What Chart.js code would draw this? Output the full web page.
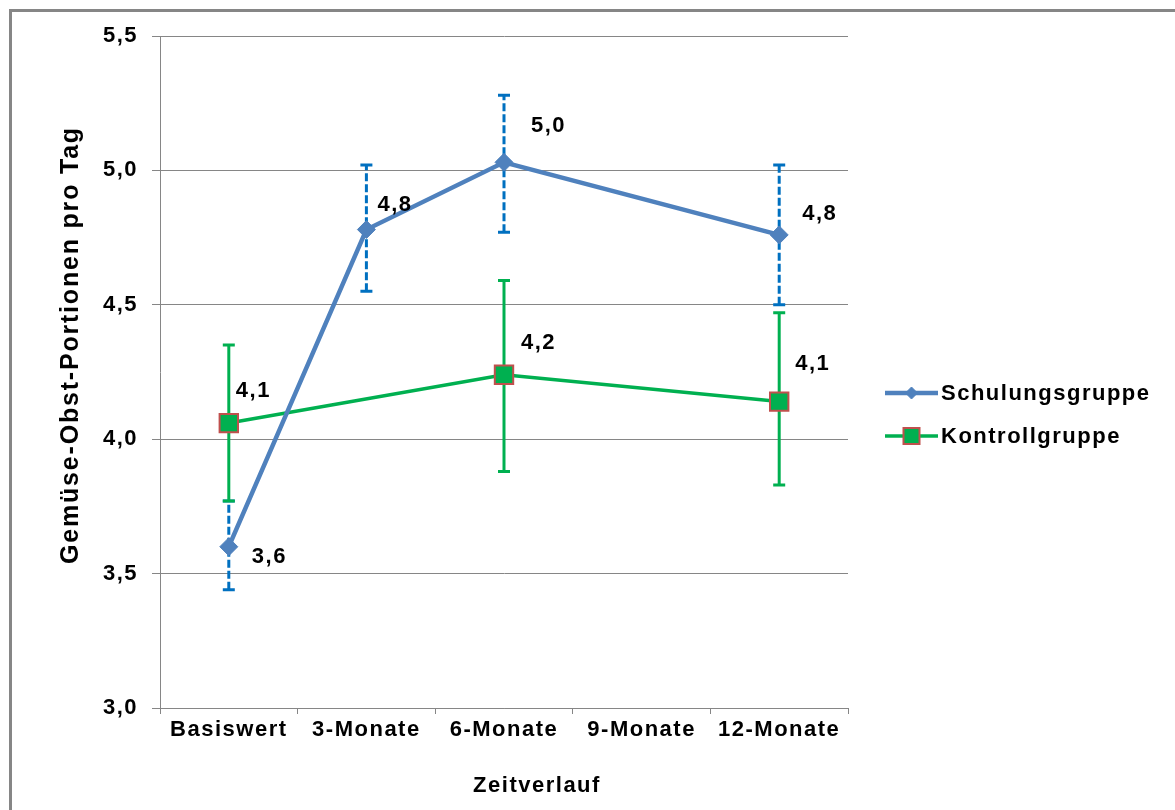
<!DOCTYPE html>
<html>
<head>
<meta charset="utf-8">
<script src="https://cdn.jsdelivr.net/npm/chart.js@4.4.1/dist/chart.umd.min.js"></script>
<style>
  html, body { margin: 0; padding: 0; background: #ffffff; }
  #wrap { width: 1175px; height: 810px; }
</style>
</head>
<body>
<div id="wrap"><canvas id="chart" width="1175" height="810"></canvas></div>
<script>
// Zeitpunkte der Erhebung
const categories = ['Basiswert', '3-Monate', '6-Monate', '9-Monate', '12-Monate'];

// Schulungsgruppe: Mittelwerte und Fehlerbalken (untere / obere Grenze)
const schulung     = [3.60, 4.78, 5.03, null, 4.76];
const schulungLow  = [3.44, 4.55, 4.77, null, 4.50];
const schulungHigh = [3.77, 5.02, 5.28, null, 5.02];

// Kontrollgruppe: Mittelwerte und Fehlerbalken
const kontroll     = [4.06, null, 4.24, null, 4.14];
const kontrollLow  = [3.77, null, 3.88, null, 3.83];
const kontrollHigh = [4.35, null, 4.59, null, 4.47];

// Achsenbereich der y-Achse
const yMin = 3.0, yMax = 5.5, yStep = 0.5;

const FONT = "'Liberation Sans', Arial, sans-serif";
const GREY = '#868686';
const SPACING = '1.5px';
const fmt = v => v.toFixed(1).replace('.', ',');

// wider glyph spacing for every canvas text
const spacing = {
  id: 'spacing',
  beforeUpdate(c) { c.ctx.letterSpacing = SPACING; },
  beforeLayout(c) { c.ctx.letterSpacing = SPACING; },
  beforeDraw(c) { c.ctx.letterSpacing = SPACING; }
};

// outer frame of the chart object
const frame = {
  id: 'frame',
  beforeDraw(c) {
    const ctx = c.ctx;
    ctx.save();
    ctx.strokeStyle = GREY;
    ctx.lineWidth = 3;
    ctx.strokeRect(10.5, 10.5, 1300, 1000);
    ctx.restore();
  }
};

// vertical error bars with caps
const errorBars = {
  id: 'errorBars',
  beforeDatasetsDraw(c) {
    const ctx = c.ctx, y = c.scales.y;
    c.data.datasets.forEach((ds, i) => {
      const meta = c.getDatasetMeta(i);
      const eb = ds.errorBar;
      ctx.save();
      ctx.strokeStyle = eb.color;
      ctx.lineWidth = eb.width;
      ctx.lineCap = 'butt';
      meta.data.forEach((pt, k) => {
        if (eb.low[k] == null || eb.high[k] == null) return;
        const x = pt.x;
        const yl = y.getPixelForValue(eb.low[k]);
        const yh = y.getPixelForValue(eb.high[k]);
        ctx.setLineDash(eb.dash);
        ctx.beginPath();
        ctx.moveTo(x, yl);
        ctx.lineTo(x, yh);
        ctx.stroke();
        ctx.setLineDash([]);
        ctx.beginPath();
        ctx.moveTo(x - eb.cap, yl); ctx.lineTo(x + eb.cap, yl);
        ctx.moveTo(x - eb.cap, yh); ctx.lineTo(x + eb.cap, yh);
        ctx.stroke();
      });
      ctx.restore();
    });
  }
};

// value labels next to the markers
const valueLabels = {
  id: 'valueLabels',
  afterDatasetsDraw(c) {
    const ctx = c.ctx;
    ctx.save();
    ctx.fillStyle = '#000';
    ctx.font = 'bold 22px ' + FONT;
    ctx.letterSpacing = SPACING;
    ctx.textAlign = 'left';
    ctx.textBaseline = 'middle';
    c.data.datasets.forEach((ds, i) => {
      const meta = c.getDatasetMeta(i);
      meta.data.forEach((pt, k) => {
        const v = ds.data[k];
        if (v == null) return;
        const n = ds.labelNudge[k];
        ctx.fillText(fmt(v), pt.x + n[0], pt.y + n[1]);
      });
    });
    ctx.restore();
  }
};

// legend with line + marker samples
function drawMarker(ctx, style, x, y, r, fill, stroke, bw) {
  ctx.beginPath();
  if (style === 'rectRot') {
    ctx.moveTo(x, y - r); ctx.lineTo(x + r, y); ctx.lineTo(x, y + r); ctx.lineTo(x - r, y);
  } else {
    ctx.rect(x - r, y - r, 2 * r, 2 * r);
  }
  ctx.closePath();
  ctx.fillStyle = fill; ctx.fill();
  ctx.lineWidth = bw; ctx.strokeStyle = stroke; ctx.stroke();
}

const sideLegend = {
  id: 'sideLegend',
  afterDraw(c, args, o) {
    const ctx = c.ctx;
    ctx.save();
    c.data.datasets.forEach((ds, i) => {
      const yy = o.y[i];
      ctx.strokeStyle = ds.borderColor;
      ctx.lineWidth = ds.borderWidth;
      ctx.beginPath();
      ctx.moveTo(o.x0, yy); ctx.lineTo(o.x1, yy);
      ctx.stroke();
      const mx = (o.x0 + o.x1) / 2;
      drawMarker(ctx, ds.pointStyle, mx, yy, o.r[i], ds.pointBackgroundColor, ds.pointBorderColor, ds.pointBorderWidth);
      ctx.fillStyle = '#000';
      ctx.font = 'bold 22px ' + FONT;
      ctx.textAlign = 'left';
      ctx.textBaseline = 'middle';
      ctx.letterSpacing = SPACING;
      ctx.fillText(ds.label, o.tx, yy + 1);
    });
    ctx.restore();
  }
};

// axis titles
const axisTitles = {
  id: 'axisTitles',
  afterDraw(c, args, o) {
    const ctx = c.ctx;
    ctx.save();
    ctx.fillStyle = '#000';
    ctx.textAlign = 'center';
    ctx.textBaseline = 'middle';
    ctx.letterSpacing = SPACING;
    ctx.font = 'bold 22px ' + FONT;
    ctx.fillText(o.x.text, o.x.cx, o.x.cy);
    ctx.translate(o.y.cx, o.y.cy);
    ctx.rotate(-Math.PI / 2);
    ctx.letterSpacing = '1.8px';
    ctx.font = 'bold 25px ' + FONT;
    ctx.fillText(o.y.text, 0, 0);
    ctx.restore();
  }
};

new Chart(document.getElementById('chart'), {
  type: 'line',
  data: {
    labels: categories,
    datasets: [
      {
        label: 'Schulungsgruppe',
        data: schulung,
        borderColor: '#4F81BD',
        borderWidth: 4.5,
        pointStyle: 'rectRot',
        pointRadius: 9,
        pointBackgroundColor: '#4F81BD',
        pointBorderColor: '#4F81BD',
        pointBorderWidth: 1,
        spanGaps: true,
        tension: 0,
        errorBar: { low: schulungLow, high: schulungHigh, color: '#0070C0', width: 3, dash: [8, 3], cap: 6 },
        labelNudge: [[23, 10], [11, -25], [27, -36], null, [23, -21]]
      },
      {
        label: 'Kontrollgruppe',
        data: kontroll,
        borderColor: '#00B050',
        borderWidth: 3.5,
        pointStyle: 'rect',
        pointRadius: 13,
        pointBackgroundColor: '#00B050',
        pointBorderColor: '#C0504D',
        pointBorderWidth: 2,
        spanGaps: true,
        tension: 0,
        errorBar: { low: kontrollLow, high: kontrollHigh, color: '#00B050', width: 3, dash: [], cap: 6 },
        labelNudge: [[7, -32], null, [17, -32], null, [16, -38]]
      }
    ]
  },
  options: {
    responsive: false,
    animation: false,
    events: [],
    layout: { padding: { left: 0, right: 327, top: 36, bottom: 0 } },
    scales: {
      x: {
        type: 'category',
        offset: true,
        grid: { offset: true, drawOnChartArea: false, drawTicks: true, tickLength: 6, color: GREY, lineWidth: 1 },
        border: { display: true, color: GREY, width: 1 },
        ticks: { autoSkip: false, maxRotation: 0, padding: 3, color: '#000', font: { family: FONT, size: 22, weight: 'bold' } },
        afterFit(s) { s.height = 102; }
      },
      y: {
        min: yMin,
        max: yMax,
        grid: { color: GREY, lineWidth: 1, tickLength: 8, drawTicks: true },
        border: { display: true, color: GREY, width: 1 },
        ticks: {
          stepSize: yStep,
          padding: 14,
          color: '#000',
          font: { family: FONT, size: 22, weight: 'bold' },
          callback: v => fmt(v)
        },
        afterFit(s) { s.width = 160; }
      }
    },
    plugins: {
      legend: { display: false },
      tooltip: { enabled: false },
      sideLegend: { x0: 885, x1: 938, tx: 941, y: [393, 436], r: [6, 8] },
      axisTitles: {
        x: { text: 'Zeitverlauf', cx: 537, cy: 786 },
        y: { text: 'Gemüse-Obst-Portionen pro Tag', cx: 71, cy: 345 }
      }
    }
  },
  plugins: [spacing, frame, errorBars, valueLabels, sideLegend, axisTitles]
});
</script>
</body>
</html>
